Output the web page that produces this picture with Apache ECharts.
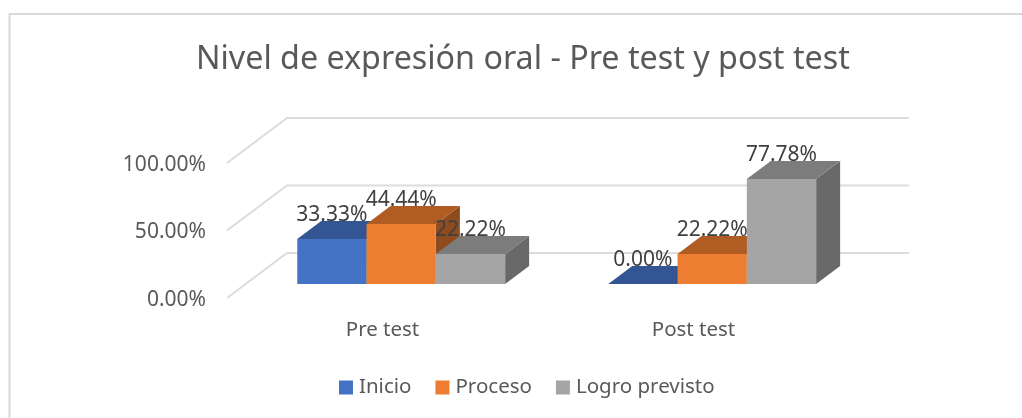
<!DOCTYPE html>
<html>
<head>
<meta charset="utf-8">
<title>Nivel de expresión oral</title>
<style>
  html, body { margin: 0; padding: 0; background: #fff; }
  #chart { width: 1022px; height: 418px; }
</style>
<script src="https://cdn.jsdelivr.net/npm/echarts@6/dist/echarts.min.js"></script>
</head>
<body>
<div id="chart"></div>
<script>
const titleText = 'Nivel de expresión oral - Pre test y post test';
const categories = ['Pre test', 'Post test'];
const yTicks = [0, 50, 100];
const inicio = [33.33, 0];
const proceso = [44.44, 22.22];
const logro = [22.22, 77.78];

const fontName = '"Noto Sans", sans-serif';

// projection of the fake 3D box, in px
const WALL_DX = 60;
const WALL_DY = -45;
const BAR_SHIFT_X = 18.7;
const BAR_SHIFT_Y = -14;
const BAR_DX = 24;
const BAR_DY = -18;
const BAR_WIDTH_RATIO = 0.2228;

const pct = (v) => v.toFixed(2) + '%';

function renderWall(params, api) {
  const band = api.size([1, 0])[0];
  const p = api.coord([0, api.value(0)]);
  const x0 = p[0] - band / 2;
  const xEnd = x0 + band * categories.length;
  return {
    type: 'polyline',
    shape: {
      points: [
        [x0, p[1]],
        [x0 + WALL_DX, p[1] + WALL_DY],
        [xEnd + WALL_DX, p[1] + WALL_DY],
      ],
    },
    style: { stroke: '#DCDCDC', lineWidth: 2, fill: null },
  };
}

function barRenderer(index, colors) {
  return function (params, api) {
    const band = api.size([1, 0])[0];
    const w = band * BAR_WIDTH_RATIO;
    const top = api.coord([api.value(0), api.value(1)]);
    const base = api.coord([api.value(0), 0]);
    const cx = top[0] + BAR_SHIFT_X + (index - 1) * w;
    const l = cx - w / 2;
    const r = cx + w / 2;
    const yt = top[1] + BAR_SHIFT_Y;
    const yb = base[1] + BAR_SHIFT_Y;
    const poly = (points, fill) => ({
      type: 'polygon',
      shape: { points: points },
      style: { fill: fill },
    });
    return {
      type: 'group',
      children: [
        poly([[r, yt], [r + BAR_DX, yt + BAR_DY], [r + BAR_DX, yb + BAR_DY], [r, yb]], colors.side),
        poly([[l, yt], [l + BAR_DX, yt + BAR_DY], [r + BAR_DX, yt + BAR_DY], [r, yt]], colors.top),
        poly([[l, yt], [r, yt], [r, yb], [l, yb]], colors.front),
        {
          type: 'text',
          z2: 100,
          style: {
            x: cx,
            y: yt - 24,
            text: pct(api.value(1)),
            fill: '#404040',
            font: '21px ' + fontName,
            align: 'center',
            verticalAlign: 'middle',
          },
        },
      ],
    };
  };
}

function barSeries(name, values, index, colors) {
  return {
    name: name,
    type: 'custom',
    z: 5,
    animation: false,
    silent: true,
    itemStyle: { color: colors.front },
    encode: { x: 0, y: 1 },
    data: values.map((v, i) => [i, v]),
    renderItem: barRenderer(index, colors),
  };
}

const chart = echarts.init(document.getElementById('chart'));
chart.setOption({
  animation: false,
  backgroundColor: '#fff',
  title: {
    text: titleText,
    left: 196,
    top: 44,
    padding: 0,
    textStyle: { fontFamily: fontName, fontSize: 32.25, fontWeight: 'normal', color: '#595959' },
  },
  legend: {
    data: ['Inicio', 'Proceso', 'Logro previsto'],
    left: 339,
    top: 377,
    padding: 0,
    icon: 'rect',
    itemWidth: 14,
    itemHeight: 14,
    itemGap: 24,
    selectedMode: false,
    textStyle: { fontFamily: fontName, fontSize: 20.5, color: '#595959', padding: [0, 0, 0, 1] },
  },
  grid: { left: 227, top: 163, width: 622, height: 135 },
  xAxis: {
    type: 'category',
    data: categories,
    axisLine: { show: false },
    axisTick: { show: false },
    splitLine: { show: false },
    axisLabel: { margin: 22, fontFamily: fontName, fontSize: 20.5, color: '#595959' },
  },
  yAxis: {
    type: 'value',
    min: 0,
    max: 100,
    interval: 50,
    axisLine: { show: false },
    axisTick: { show: false },
    splitLine: { show: false },
    axisLabel: { margin: 21, fontFamily: fontName, fontSize: 21, color: '#595959', verticalAlign: 'top', lineHeight: 4, formatter: pct },
  },
  graphic: [
    {
      type: 'polyline',
      silent: true,
      shape: { points: [[9.5, 418], [9.5, 14], [1022, 14]] },
      style: { stroke: '#D9D9D9', lineWidth: 2, fill: null },
    },
  ],
  series: [
    {
      name: 'walls',
      type: 'custom',
      z: 1,
      animation: false,
      silent: true,
      encode: { y: 0 },
      data: yTicks.map((t) => [t]),
      renderItem: renderWall,
    },
    barSeries('Inicio', inicio, 0, { front: '#4472C4', top: '#335593', side: '#2A4675' }),
    barSeries('Proceso', proceso, 1, { front: '#ED7D31', top: '#B15C23', side: '#8F4B1D' }),
    barSeries('Logro previsto', logro, 2, { front: '#A5A5A5', top: '#7C7C7C', side: '#696969' }),
  ],
});
window.addEventListener('resize', () => {
  chart.resize();
});
</script>
</body>
</html>
